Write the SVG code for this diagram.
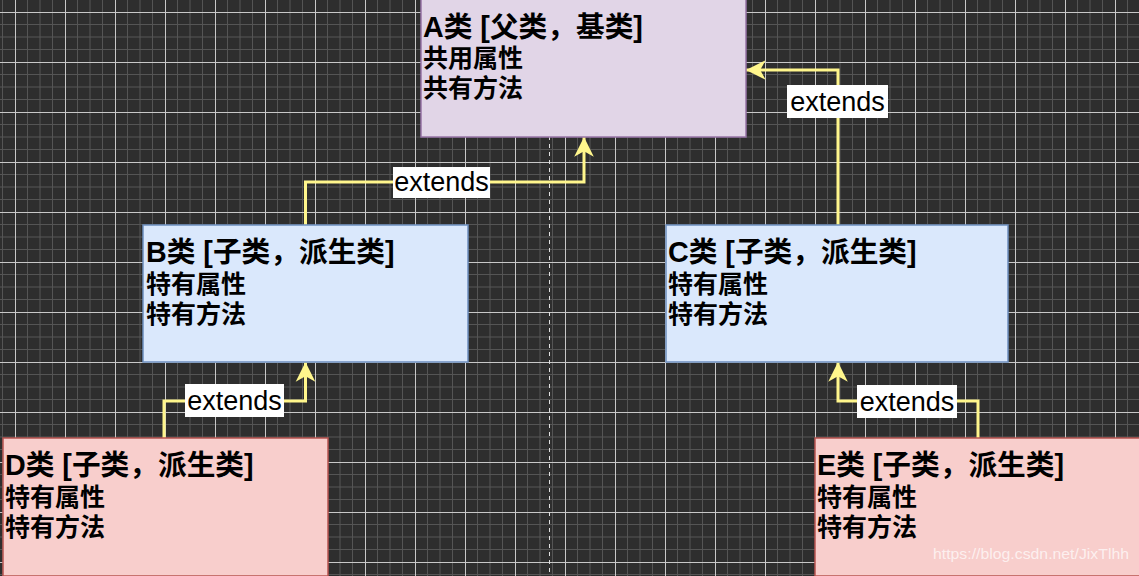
<svg xmlns="http://www.w3.org/2000/svg" width="1139" height="576" viewBox="0 0 1139 576">
<style>
.node text{font-family:"Liberation Sans","Noto Sans CJK SC",sans-serif;font-weight:bold;font-size:25px;fill:#000}
.node text.t{font-size:28.7px}
.lbl rect{fill:#fff}
.lbl text{font-family:"Liberation Sans","Noto Sans CJK SC",sans-serif;font-size:27px;fill:#000;text-anchor:middle}
.edge{fill:none;stroke:#fff68c;stroke-width:3;marker-end:url(#arr)}
.purple{fill:#e1d5e7;stroke:#9673a6;stroke-width:1.5}
.blue{fill:#dae8fc;stroke:#6c8ebf;stroke-width:1.5}
.red{fill:#f8cecc;stroke:#b85450;stroke-width:1.5}
</style>
<defs>
<pattern id="grid" patternUnits="userSpaceOnUse" x="15" y="12" width="50" height="50">
<rect width="50" height="50" fill="#2e2e2e"/>
<path d="M12.5 0V50M25 0V50M37.5 0V50M0 12.5H50M0 25H50M0 37.5H50" stroke="#555" stroke-width="1" fill="none"/>
<path d="M0.5 0V50M0 0.5H50" stroke="#c8c8c8" stroke-width="1" fill="none"/>
</pattern>
<marker id="arr" markerUnits="userSpaceOnUse" markerWidth="24" markerHeight="24" viewBox="-20 -10 22 20" refX="0" refY="0" orient="auto">
<path d="M0,0 L-18,-9 L-13,0 L-18,9 Z" fill="#fff68c"/>
</marker>
</defs>
<rect width="1139" height="576" fill="url(#grid)"/>
<line x1="549.5" y1="0" x2="549.5" y2="576" stroke="#e0e0e0" stroke-width="1" stroke-dasharray="4 4"/>
<g id="connectors">
<path class="edge" d="M305.5 225V182H584V137"/>
<path class="edge" d="M838 225V70H746"/>
<path class="edge" d="M164 438V401H305.5V362"/>
<path class="edge" d="M978 438V401H838V362"/>
<g class="lbl"><rect x="393" y="167" width="97" height="31"/><text x="441.5" y="191">extends</text></g>
<g class="lbl"><rect x="787" y="85" width="101" height="33"/><text x="837.5" y="111">extends</text></g>
<g class="lbl"><rect x="185" y="384" width="99" height="33"/><text x="234.5" y="410">extends</text></g>
<g class="lbl"><rect x="857" y="385" width="100" height="33"/><text x="907" y="411">extends</text></g>
</g>
<g id="nodeA" class="node"><rect class="purple" x="421" y="-1" width="325" height="138"/>
<text class="t" x="423" y="37">A类 [父类，基类]</text><text x="423" y="67">共用属性</text><text x="423" y="97">共有方法</text></g>
<g id="nodeB" class="node"><rect class="blue" x="143" y="225" width="325" height="137"/>
<text class="t" x="146" y="262">B类 [子类，派生类]</text><text x="146" y="293">特有属性</text><text x="146" y="323">特有方法</text></g>
<g id="nodeC" class="node"><rect class="blue" x="666" y="225" width="342" height="137"/>
<text class="t" x="668" y="262">C类 [子类，派生类]</text><text x="668" y="293">特有属性</text><text x="668" y="323">特有方法</text></g>
<g id="nodeD" class="node"><rect class="red" x="3" y="438" width="325" height="138"/>
<text class="t" x="5" y="475">D类 [子类，派生类]</text><text x="5" y="506">特有属性</text><text x="5" y="536">特有方法</text></g>
<g id="nodeE" class="node"><rect class="red" x="815" y="438" width="330" height="138"/>
<text class="t" x="817" y="475">E类 [子类，派生类]</text><text x="817" y="506">特有属性</text><text x="817" y="536">特有方法</text></g>
<text x="933" y="559" font-family="Liberation Sans, sans-serif" font-size="15.5" textLength="196" lengthAdjust="spacingAndGlyphs" fill="#ffffff" fill-opacity="0.7">https://blog.csdn.net/JixTlhh</text>
</svg>
